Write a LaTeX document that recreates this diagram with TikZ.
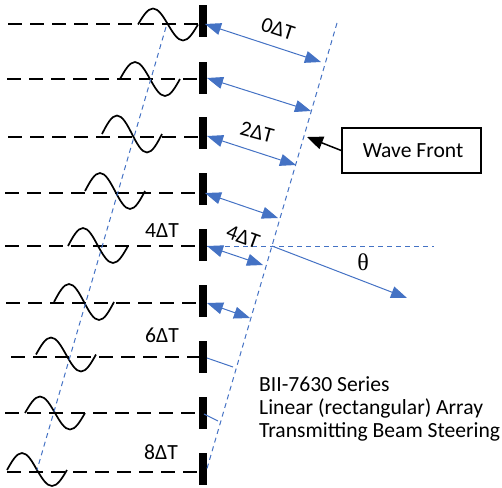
\documentclass[tikz,border=0pt]{standalone}
\usepackage{fontspec}
\setmainfont{Carlito}
\newfontfamily\thetafont{Liberation Serif}
\usetikzlibrary{arrows.meta}
\definecolor{beamblue}{HTML}{4472C4}
\tikzset{
  feed/.style={line width=1.8pt,dash pattern=on 14pt off 8pt},
  wave/.style={line width=1.7pt},
  element/.style={fill=black,inner sep=0pt,minimum width=8pt,minimum height=32pt},
  front/.style={beamblue,line width=1pt,dash pattern=on 5pt off 4pt},
  path/.style={beamblue,line width=1pt,{Triangle[length=16pt,width=12pt]}-{Triangle[length=16pt,width=12pt]}},
  delay/.style={font=\fontsize{21.6}{24}\selectfont,inner sep=0pt},
}
\begin{document}
\begin{tikzpicture}[x=1pt,y=-1pt]
  \useasboundingbox (0,0) rectangle (502,487);

  % feed lines
  \coordinate (in1) at (8,24);
  \coordinate (in2) at (7,79);
  \coordinate (in3) at (8,137);
  \coordinate (in4) at (5,193);
  \coordinate (in5) at (5,246);
  \coordinate (in6) at (6,303);
  \coordinate (in7) at (11,357);
  \coordinate (in8) at (5,413);
  \coordinate (in9) at (7,472);

  % array elements
  \node[element] (bar1) at (203,21) {};
  \node[element] (bar2) at (203,77.5) {};
  \node[element] (bar3) at (203,133) {};
  \node[element] (bar4) at (203,189) {};
  \node[element] (bar5) at (203,245) {};
  \node[element] (bar6) at (203,301) {};
  \node[element] (bar7) at (203,357) {};
  \node[element] (bar8) at (203,413) {};
  \node[element] (bar9) at (203,469) {};

  \draw[feed] (in1) -- (in1-|bar1);
  \draw[feed] (in2) -- (in2-|bar2);
  \draw[feed] (in3) -- (in3-|bar3);
  \draw[feed] (in4) -- (in4-|bar4);
  \draw[feed] (in5) -- (in5-|bar5);
  \draw[feed] (in6) -- (in6-|bar6);
  \draw[feed] (in7) -- (in7-|bar7);
  \draw[feed] (in8) -- (in8-|bar8);
  \draw[feed] (in9) -- (in9-|bar9);

  % sine bursts
  \draw[wave] (138,24.5) sin ++(15,-16) cos ++(15,16) sin ++(15,16) cos ++(15,-16);
  \draw[wave] (120,79) sin ++(15,-17) cos ++(15,17) sin ++(15,17) cos ++(15,-17);
  \draw[wave] (102,134) sin ++(15,-18.5) cos ++(15,18.5) sin ++(15,18.5) cos ++(15,-18.5);
  \draw[wave] (85,191) sin ++(15,-18) cos ++(15,18) sin ++(15,18) cos ++(15,-18);
  \draw[wave] (68,246) sin ++(15,-18) cos ++(15,18) sin ++(15,17) cos ++(15,-17);
  \draw[wave] (54,302) sin ++(15,-18) cos ++(15,18) sin ++(15,18) cos ++(15,-18);
  \draw[wave] (36,354.5) sin ++(15,-17) cos ++(15,17) sin ++(15,17) cos ++(15,-17);
  \draw[wave] (25,413) sin ++(15,-16.5) cos ++(15,16.5) sin ++(15,16.5) cos ++(15,-16.5);
  \draw[wave] (7,470) sin ++(15,-17) cos ++(15,17) sin ++(15,16) cos ++(15,-16);

  % wave fronts
  \coordinate (back top) at (166,27);
  \coordinate (back bot) at (37,470);
  \coordinate (front top) at (337,23);
  \coordinate (front bot) at (206,472);
  \draw[front] (back top) -- (back bot);
  \draw[front] (front top) -- (front bot);

  % path lengths
  \coordinate (hit1) at (321,62);
  \coordinate (hit2) at (311,111);
  \coordinate (hit3) at (296,165);
  \coordinate (hit4) at (278,218);
  \coordinate (hit5) at (263,265);
  \coordinate (hit6) at (250,318);
  \coordinate (hit7) at (233,367);
  \coordinate (hit8) at (218,421);
  \draw[path] (205,24) -- (hit1);
  \draw[path] (207,78) -- (hit2);
  \draw[path] (207,136) -- (hit3);
  \draw[path] (205,193) -- (hit4);
  \draw[path] (207,246) -- (hit5);
  \draw[path] (207,303) -- (hit6);
  \draw[beamblue,line width=1pt] (207,358) -- (hit7);
  \draw[beamblue,line width=1pt] (204,414) -- (hit8);

  % beam direction
  \coordinate (beam) at (272,246);
  \coordinate (beam end) at (407,298);
  \coordinate (horiz) at (434,246);
  \draw[front] (bar5.east|-beam) -- (horiz);
  \draw[beamblue,line width=1pt,-{Triangle[length=16pt,width=12pt]}] (beam) -- (beam end);
  \node[font=\thetafont\fontsize{24}{26}\selectfont,inner sep=0pt] (theta) at (363,262) {θ};

  % wave front callout
  \node[draw,line width=1.5pt,minimum width=139pt,minimum height=45pt,inner sep=0pt,font=\fontsize{21.6}{24}\selectfont] (box) at (411.5,150.5) {\hspace{3pt}Wave Front};
  \coordinate (tip) at (307,137);
  \draw[line width=1.5pt,-{Triangle[length=16pt,width=13pt]}] (box.west) -- (tip);

  % delay labels
  \node[delay,rotate=-18] (d0) at (278,29) {0ΔT};
  \node[delay,rotate=-15] (d2) at (257,132) {2ΔT};
  \node[delay,rotate=-20] (d4) at (243,237) {4ΔT};
  \node[delay] (t4) at (162,231) {4ΔT};
  \node[delay] (t6) at (162,335) {6ΔT};
  \node[delay] (t8) at (161,452) {8ΔT};

  % caption
  \node[delay,anchor=west] (cap1) at (259,384) {BII-7630 Series};
  \node[delay,anchor=west] (cap2) at (259,408) {Linear (rectangular) Array};
  \node[delay,anchor=west] (cap3) at (259,432) {Transmitting Beam Steering};
\end{tikzpicture}
\end{document}
